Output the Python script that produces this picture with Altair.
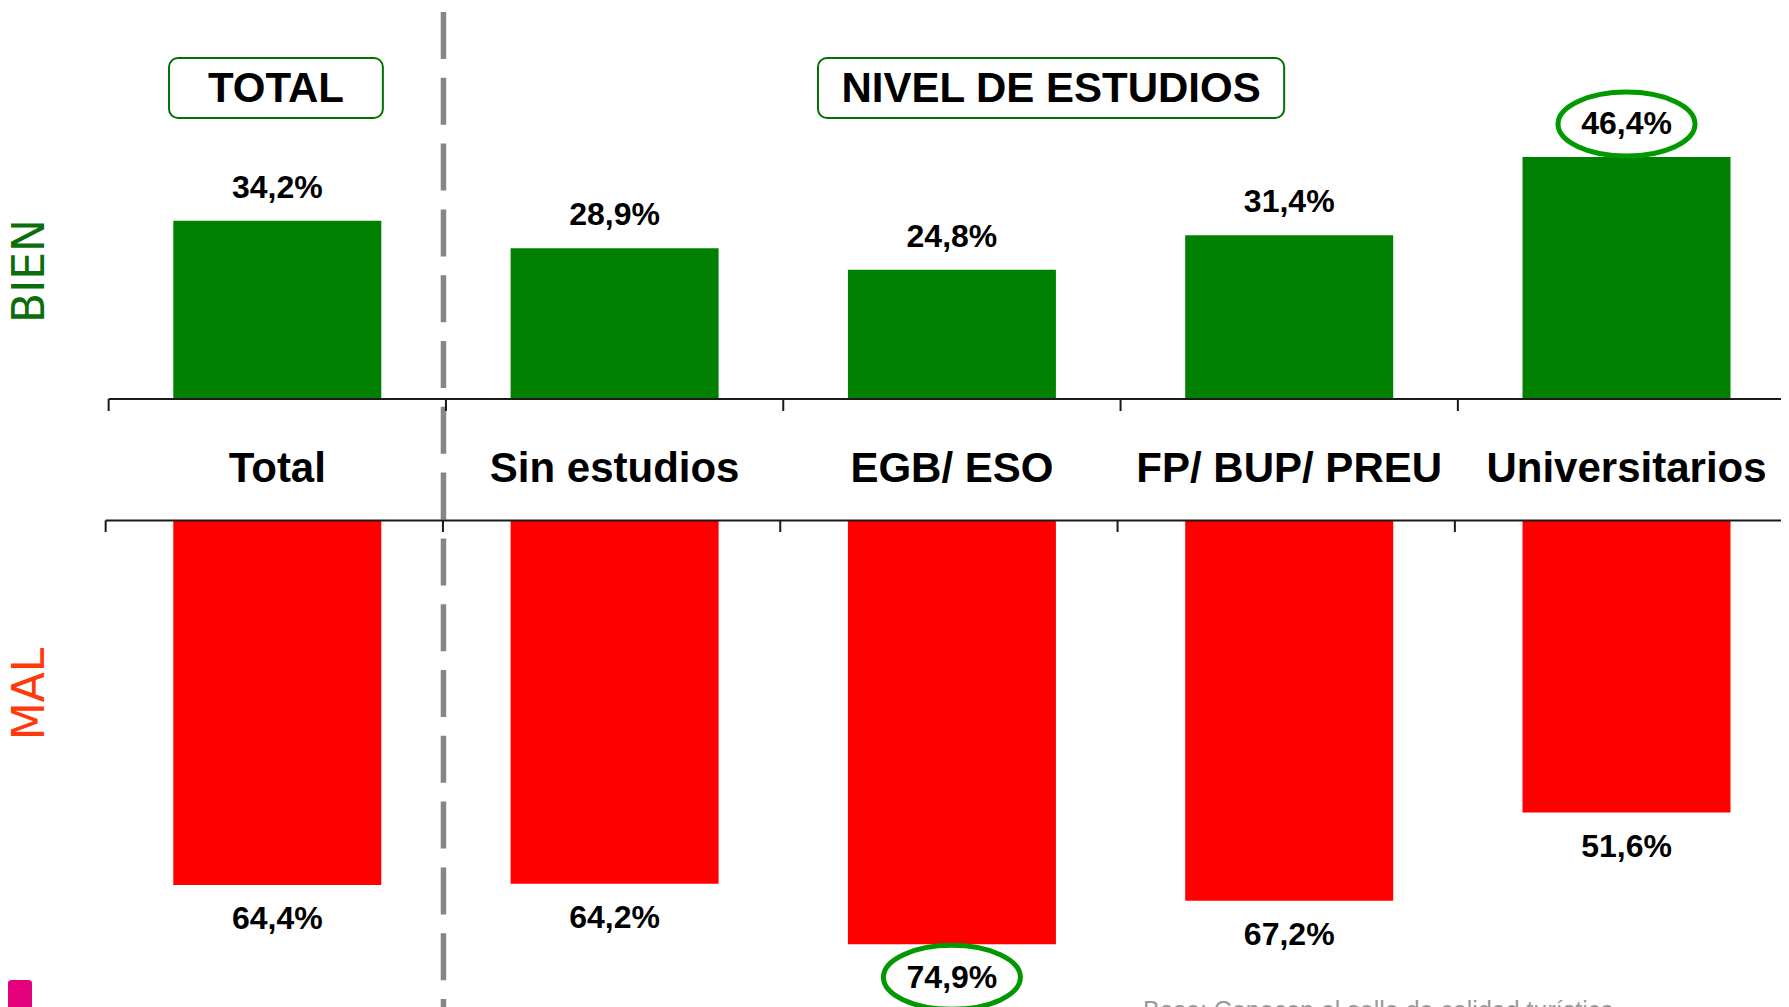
import altair as alt
import pandas as pd

# ---------------- data ----------------
categories = ["Total", "Sin estudios", "EGB/ ESO", "FP/ BUP/ PREU", "Universitarios"]
bien = [34.2, 28.9, 24.8, 31.4, 46.4]
mal = [64.4, 64.2, 74.9, 67.2, 51.6]
bien_circled = ["Universitarios"]
mal_circled = ["EGB/ ESO"]
group_titles = ["TOTAL", "NIVEL DE ESTUDIOS"]
side_labels = ["BIEN", "MAL"]
footnote = "Base: Conocen el sello de calidad turística"

FONT = "Liberation Sans"
W, H = 1773, 999
TOP_BASE = 391          # baseline of the BIEN bars
BOT_BASE = 513          # baseline of the MAL bars


def pct(v):
    return f"{v:.1f}".replace(".", ",") + "%"


df = pd.DataFrame({
    "cat": categories,
    "pos": [i + 0.5 for i in range(len(categories))],
    "bien": bien,
    "mal": mal,
    "zero": [0.0] * len(categories),
    "bien_lbl": [pct(v) for v in bien],
    "mal_lbl": [pct(v) for v in mal],
})
df["bien_hi"] = df["cat"].isin(bien_circled)
df["mal_hi"] = df["cat"].isin(mal_circled)

ticks_df = pd.DataFrame({"t": [float(i) for i in range(len(categories))]})
start_df = pd.DataFrame({"s": [0.0]})          # start of category axis
sep_df = pd.DataFrame({"s": [1.0]})            # boundary Total | Nivel de estudios
one = pd.DataFrame({"k": [0]})
boxes_df = pd.DataFrame({
    "title": group_titles,
    "bx1": [0.179, 2.103],
    "bx2": [0.813, 3.485],
})
boxes_df["xc"] = (boxes_df["bx1"] + boxes_df["bx2"]) / 2

# ---------------- scales ----------------
xscale = alt.Scale(domain=[-0.2984, 4.958], nice=False, zero=False, padding=0)
top_scale = alt.Scale(domain=[0, 75], range=[TOP_BASE, 0], nice=False, zero=True, padding=0)
bot_scale = alt.Scale(domain=[0, 86], range=[BOT_BASE, H], nice=False, zero=True, padding=0)

X = alt.X("pos:Q", scale=xscale, axis=None)
Ytop = alt.Y("bien:Q", scale=top_scale, axis=None)
Ybot = alt.Y("mal:Q", scale=bot_scale, axis=None)

ELL = "M -1 0 A 1 0.467 0 1 1 1 0 A 1 0.467 0 1 1 -1 0 Z"
AX = "#1a1a1a"

base = alt.Chart(df)

sep = alt.Chart(sep_df).mark_rule(
    color="#868686", strokeWidth=5.5, strokeDash=[47, 18.8], xOffset=-2.5).encode(
    x=alt.X("s:Q", scale=xscale, axis=None), y=alt.value(4), y2=alt.value(H))


def hline(y, xoff):
    return alt.Chart(start_df).mark_rule(color=AX, strokeWidth=2, xOffset=xoff).encode(
        x=alt.X("s:Q", scale=xscale, axis=None), x2=alt.value(W - xoff), y=alt.value(y))


def ticks(y1, y2, xoff):
    return alt.Chart(ticks_df).mark_rule(color=AX, strokeWidth=2, xOffset=xoff).encode(
        x=alt.X("t:Q", scale=xscale, axis=None), y=alt.value(y1), y2=alt.value(y2))


# ---------------- BIEN (top) ----------------
top_bars = base.mark_bar(color="#008000", size=208).encode(
    x=X, y=Ytop, y2="zero:Q")
top_text = base.mark_text(dy=-33, fontSize=32, fontWeight="bold", font=FONT,
                          baseline="middle", color="#000000").encode(
    x=X, y=Ytop, text="bien_lbl:N")
top_ell = base.transform_filter("datum.bien_hi").mark_point(
    shape=ELL, size=137 ** 2, filled=False, color="#009900", strokeWidth=5,
    opacity=1, yOffset=-33).encode(x=X, y=Ytop)

# ---------------- MAL (bottom) ----------------
bot_bars = base.mark_bar(color="#ff0000", size=208).encode(
    x=X, y=Ybot, y2="zero:Q")
bot_text = base.mark_text(dy=34, fontSize=32, fontWeight="bold", font=FONT,
                          baseline="middle", color="#000000").encode(
    x=X, y=Ybot, text="mal_lbl:N")
bot_ell = base.transform_filter("datum.mal_hi").mark_point(
    shape=ELL, size=137 ** 2, filled=False, color="#009900", strokeWidth=5,
    opacity=1, yOffset=33).encode(x=X, y=Ybot)

# ---------------- category labels ----------------
cat_text = base.mark_text(fontSize=42, fontWeight="bold", font=FONT,
                          baseline="alphabetic", color="#000000").encode(
    x=X, y=alt.value(474), text="cat:N")

# ---------------- group titles ----------------
boxes = alt.Chart(boxes_df).mark_rect(fill="#ffffff", stroke="#007000",
                                      strokeWidth=2, cornerRadius=9).encode(
    x=alt.X("bx1:Q", scale=xscale, axis=None), x2="bx2:Q",
    y=alt.value(50), y2=alt.value(110))
box_text = alt.Chart(boxes_df).mark_text(fontSize=42, fontWeight="bold", font=FONT,
                                         baseline="middle", color="#000000").encode(
    x=alt.X("xc:Q", scale=xscale, axis=None), y=alt.value(81), text="title:N")

# ---------------- side labels, logo, footnote ----------------
bien_lbl = alt.Chart(one).mark_text(angle=270, fontSize=44, font="DejaVu Sans",
                                    color="#0b6e0b", baseline="middle").encode(
    x=alt.value(23), y=alt.value(263), text=alt.value(side_labels[0]))
mal_lbl = alt.Chart(one).mark_text(angle=270, fontSize=44, font="DejaVu Sans",
                                   color="#ff3a0a", baseline="middle").encode(
    x=alt.value(23), y=alt.value(686), text=alt.value(side_labels[1]))
logo = alt.Chart(one).mark_rect(color="#e5007d", cornerRadius=3).encode(
    x=alt.value(0), x2=alt.value(24), y=alt.value(972), y2=alt.value(1006))
foot = alt.Chart(one).mark_text(align="left", baseline="alphabetic", fontSize=25,
                                font=FONT, color="#9a9a9a").encode(
    x=alt.value(1135), y=alt.value(1011), text=alt.value(footnote))

chart = alt.layer(
    sep, top_bars, bot_bars,
    hline(TOP_BASE, 0), ticks(TOP_BASE, TOP_BASE + 12, 0),
    hline(BOT_BASE - 0.5, -3), ticks(BOT_BASE - 0.5, BOT_BASE + 11, -3),
    top_text, bot_text, top_ell, bot_ell, cat_text,
    boxes, box_text, bien_lbl, mal_lbl, logo, foot,
).resolve_scale(y="independent").properties(
    width=W, height=H, padding=0,
    autosize=alt.AutoSizeParams(type="none"),
).configure_view(stroke=None)

chart.save("out.html", embed_options={"renderer": "svg", "actions": False})
